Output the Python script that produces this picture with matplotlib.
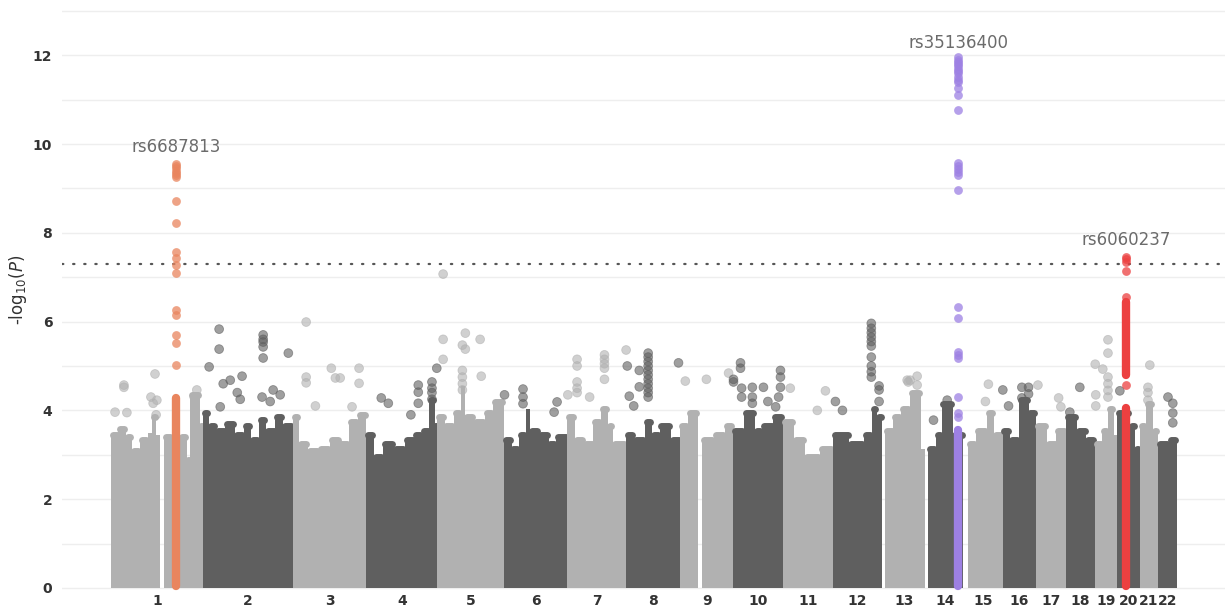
import numpy as np
import matplotlib
matplotlib.use('Agg')
import matplotlib.pyplot as plt

# chromosomes and their lengths (Mb)
chrom_names = [str(i) for i in range(1, 23)]
chrom_len = [249.3, 243.2, 198.0, 191.2, 180.9, 171.1, 159.1, 146.4, 141.2, 135.5, 135.0,
             133.9, 115.2, 107.3, 102.5, 90.4, 81.2, 78.1, 59.1, 63.0, 48.1, 51.3]

# top of the dense cloud of SNPs: (start Mb, end Mb, -log10 P) per chromosome
cloud = {
    1: [(0, 20, 3.5), (20, 40, 3.65), (40, 56, 3.45), (56, 78, 3.15), (78, 101, 3.4),
        (101, 110, 3.55), (110, 123, 3.9), (123, 132, 3.5), (132, 144, 0), (144, 164, 3.45),
        (164, 186, 3.3), (186, 205, 3.45), (205, 214, 2.95), (214, 241, 4.4), (241, 249.3, 3.7)],
    2: [(0, 15, 4.0), (15, 35, 3.7), (35, 60, 3.6), (60, 85, 3.75), (85, 110, 3.5),
        (110, 130, 3.7), (130, 150, 3.4), (150, 170, 3.85), (170, 195, 3.6), (195, 215, 3.9),
        (215, 243.2, 3.7)],
    3: [(0, 15, 3.9), (15, 40, 3.3), (40, 70, 3.15), (70, 100, 3.2), (100, 125, 3.4),
        (125, 150, 3.3), (150, 175, 3.8), (175, 198, 3.95)],
    4: [(0, 20, 3.5), (20, 45, 3.0), (45, 75, 3.3), (75, 105, 3.2), (105, 130, 3.4),
        (130, 150, 3.5), (150, 170, 3.6), (170, 185, 4.3), (185, 191.2, 3.7)],
    5: [(0, 20, 3.9), (20, 45, 3.7), (45, 65, 4.0), (65, 75, 4.6), (75, 100, 3.9),
        (100, 130, 3.8), (130, 150, 4.0), (150, 180.9, 4.25)],
    6: [(0, 20, 3.4), (20, 40, 3.2), (40, 60, 3.5), (60, 70, 4.1), (70, 95, 3.6),
        (95, 120, 3.5), (120, 140, 3.3), (140, 171.1, 3.45)],
    7: [(0, 20, 3.9), (20, 45, 3.4), (45, 70, 3.3), (70, 90, 3.8), (90, 110, 4.1),
        (110, 124, 3.7), (124, 159.1, 3.3)],
    8: [(0, 20, 3.5), (20, 50, 3.4), (50, 70, 3.8), (70, 90, 3.5), (90, 120, 3.7),
        (120, 146.4, 3.4)],
    9: [(0, 20, 3.7), (20, 46, 4.0), (46, 59, 0), (59, 90, 3.4), (90, 120, 3.5),
        (120, 141.2, 3.7)],
    10: [(0, 30, 3.6), (30, 60, 4.0), (60, 80, 3.6), (80, 110, 3.7), (110, 135.5, 3.9)],
    11: [(0, 30, 3.8), (30, 60, 3.4), (60, 100, 3.0), (100, 135.0, 3.2)],
    12: [(0, 45, 3.5), (45, 85, 3.3), (85, 105, 3.5), (105, 120, 4.1), (120, 133.9, 3.9)],
    13: [(0, 8, 0), (8, 30, 3.6), (30, 50, 3.9), (50, 75, 4.1), (75, 105, 4.45),
         (105, 115.2, 3.2)],
    14: [(0, 8, 0), (8, 30, 3.2), (30, 45, 3.5), (45, 75, 4.2), (75, 104, 3.5),
         (104, 107.3, 0)],
    15: [(0, 8, 0), (8, 30, 3.3), (30, 60, 3.6), (60, 80, 4.0), (80, 102.5, 3.5)],
    16: [(0, 20, 3.6), (20, 45, 3.4), (45, 70, 4.3), (70, 90.4, 4.0)],
    17: [(0, 30, 3.7), (30, 55, 3.3), (55, 81.2, 3.6)],
    18: [(0, 30, 3.9), (30, 55, 3.6), (55, 78.1, 3.4)],
    19: [(0, 20, 3.3), (20, 35, 3.6), (35, 50, 4.1), (50, 59.1, 3.5)],
    20: [(0, 35, 4.0), (35, 50, 3.7), (50, 63.0, 3.2)],
    21: [(0, 15, 3.7), (15, 35, 4.2), (35, 48.1, 3.6)],
    22: [(0, 30, 3.3), (30, 51.3, 3.4)],
}

# single SNPs standing out above the cloud
out_chr = [1, 1, 1, 1, 1, 1, 1, 1, 1, 1, 1,
           2, 2, 2, 2, 2, 2, 2, 2, 2, 2, 2, 2, 2, 2, 2, 2, 2, 2, 2,
           3, 3, 3, 3, 3, 3, 3, 3, 3, 3,
           4, 4, 4, 4, 4, 4, 4, 4, 4, 4, 4,
           5, 5, 5, 5, 5, 5, 5, 5, 5, 5, 5, 5,
           6, 6, 6, 6, 6, 6,
           7, 7, 7, 7, 7, 7, 7, 7, 7, 7, 7, 7, 7,
           8, 8, 8, 8, 8, 8, 8, 8, 8, 8, 8, 8, 8, 8, 8, 8, 8,
           9, 9, 9,
           10, 10, 10, 10, 10, 10, 10, 10, 10, 10, 10, 10, 10, 10, 10, 10,
           11, 11, 11,
           12, 12, 12, 12, 12, 12, 12, 12, 12, 12, 12, 12, 12, 12, 12,
           13, 13, 13, 13, 13,
           14, 14,
           15, 15,
           16, 16, 16, 16, 16, 16,
           17, 17, 17,
           18, 18,
           19, 19, 19, 19, 19, 19, 19, 19, 19, 19,
           20,
           21, 21, 21, 21,
           22, 22, 22, 22]
out_pos = [11, 35, 35, 43, 108, 114, 119, 122, 124, 232, 225,
           16, 43, 43, 54, 46, 73, 92, 105, 162, 162, 162, 162, 162, 189, 208, 230, 159, 181, 100,
           35, 35, 35, 103, 114, 127, 178, 178, 159, 60,
           40, 59, 140, 140, 140, 177, 177, 177, 177, 190, 120,
           16, 16, 16, 76, 68, 76, 68, 68, 68, 68, 116, 119,
           1, 51, 51, 51, 135, 143,
           1, 26, 26, 26, 26, 26, 100, 100, 100, 100, 100, 158.5, 60,
           2.5, 8, 35, 35, 59, 59, 59, 59, 59, 59, 59, 59, 59, 59, 59, 141, 20,
           13, 70, 130,
           2, 2, 21, 21, 24, 24, 53, 53, 53, 83, 129, 129, 129, 124, 116, 95,
           20, 93, 115,
           7, 26, 104, 104, 104, 104, 104, 104, 104, 104, 104, 104, 125, 125, 125,
           67, 75, 94, 94, 70,
           60, 23,
           64, 56,
           0.5, 16, 52, 70, 52, 70,
           5, 61, 67,
           10, 37,
           0.5, 2, 2, 21, 35, 35, 35, 35, 35, 35,
           8,
           26, 21, 21, 21,
           27, 40, 40, 40]
out_val = [3.96, 4.57, 4.52, 3.95, 4.3, 4.16, 4.82, 3.9, 4.23, 4.46, 4.3,
           4.98, 5.83, 5.38, 4.6, 4.08, 4.68, 4.4, 4.77, 5.7, 5.6, 5.54, 5.43, 5.18, 4.46, 4.35, 5.29, 4.3, 4.2, 4.25,
           5.99, 4.75, 4.62, 4.95, 4.73, 4.73, 4.95, 4.61, 4.08, 4.1,
           4.28, 4.16, 4.57, 4.41, 4.16, 4.64, 4.5, 4.4, 4.25, 4.95, 3.9,
           7.07, 5.6, 5.15, 5.74, 5.47, 5.38, 4.9, 4.75, 4.6, 4.46, 5.6, 4.77,
           4.35, 4.48, 4.3, 4.15, 3.96, 4.19,
           4.35, 5.15, 5.0, 4.64, 4.5, 4.4, 5.25, 5.15, 5.05, 4.95, 4.7, 5.36, 4.3,
           5.0, 4.32, 4.9, 4.53, 5.29, 5.2, 5.1, 5.0, 4.9, 4.8, 4.7, 4.6, 4.5, 4.4, 4.3, 5.07, 4.1,
           4.66, 4.7, 4.84,
           4.7, 4.64, 5.07, 4.95, 4.5, 4.3, 4.52, 4.3, 4.16, 4.52, 4.9, 4.75, 4.52, 4.3, 4.08, 4.2,
           4.5, 4.0, 4.44,
           4.2, 4.0, 5.96, 5.85, 5.75, 5.65, 5.55, 5.45, 5.2, 5.0, 4.87, 4.75, 4.55, 4.46, 4.2,
           4.68, 4.68, 4.77, 4.57, 4.64,
           4.23, 3.78,
           4.59, 4.2,
           4.46, 4.1, 4.52, 4.52, 4.28, 4.37,
           4.57, 4.28, 4.08,
           3.96, 4.52,
           5.04, 4.35, 4.1, 4.93, 5.59, 5.29, 4.75, 4.6, 4.45, 4.3,
           4.44,
           5.02, 4.52, 4.4, 4.23,
           4.3, 4.16, 3.94, 3.72]

# highlighted loci
hit_chr = [1, 14, 20]
hit_pos = [175.7, 90.3, 24.6]
hit_name = ['rs6687813', 'rs35136400', 'rs6060237']
hit_color = ['#e9855e', '#9d80e3', '#ec4040']
hit_dense = [[(0, 4.28)], [(0, 3.56)], [(0, 4.05), (4.8, 6.45)]]
hit_vals = [[9.55, 9.5, 9.45, 9.4, 9.35, 9.3, 9.25, 8.72, 8.22, 7.57, 7.43, 7.27, 7.09,
             6.26, 6.15, 5.7, 5.52, 5.02],
            [11.96, 11.9, 11.85, 11.8, 11.75, 11.7, 11.65, 11.6, 11.5, 11.45, 11.4, 11.26,
             11.1, 10.77, 9.57, 9.5, 9.43, 9.36, 9.3, 8.96, 6.33, 6.08, 5.32, 5.25, 5.18,
             4.3, 3.94, 3.85],
            [7.46, 7.4, 7.34, 7.14, 6.56, 4.57]]
hit_label_y = [9.93, 12.27, 7.84]

threshold = -np.log10(5e-8)

light = '#b1b1b1'
dark = '#5f5f5f'

offsets = np.concatenate([[0], np.cumsum(chrom_len)[:-1]])
centers = offsets + np.array(chrom_len) / 2

fig = plt.figure(figsize=(12.25, 6.08), dpi=100)
ax = fig.add_axes([0.0506, 0.02566, 0.9494, 0.9748])

# grid
ax.set_yticks(np.arange(0, 13, 2))
ax.set_yticks(np.arange(1, 14, 2), minor=True)
ax.grid(axis='y', which='both', color='#eeeeee', linewidth=1.0, zorder=0)
ax.set_axisbelow(True)

# dense clouds, tops softened with round caps
for i in range(22):
    col = light if i % 2 == 0 else dark
    for s, e, top in cloud[i + 1]:
        if top > 0:
            ax.bar(offsets[i] + s, top - 0.06, width=e - s, align='edge', color=col,
                   linewidth=0, zorder=2)
            ax.plot([offsets[i] + s + 5, offsets[i] + e - 5], [top - 0.06, top - 0.06],
                    color=col, linewidth=5, solid_capstyle='round', zorder=2)

# outliers
ox = [offsets[c - 1] + p for c, p in zip(out_chr, out_pos)]
ocol = [light if c % 2 == 1 else dark for c in out_chr]
ax.scatter(ox, out_val, s=40, c=ocol, alpha=0.6, linewidths=0.6, edgecolors=ocol, zorder=3)

# highlighted loci
for c, p, name, col, dense, vals, ly in zip(hit_chr, hit_pos, hit_name, hit_color,
                                            hit_dense, hit_vals, hit_label_y):
    x = offsets[c - 1] + p
    for y0, y1 in dense:
        ax.plot([x, x], [max(y0, 0.05), y1], color=col, linewidth=6,
                solid_capstyle='round', zorder=4)
    ax.scatter([x] * len(vals), vals, s=40, color=col, alpha=0.75, linewidths=0, zorder=4)
    ax.text(x, ly, name, ha='center', va='center', fontsize=12, color='#6b6b6b', zorder=5)

# genome-wide significance line
ax.axhline(threshold, color='#555555', linewidth=1.6, linestyle=(0, (0.6, 4.4)),
           dash_capstyle='round', zorder=3)

ax.set_xlim(-132.4, 3010.8)
ax.set_ylim(-0.1, 13.25)
ax.set_xticks(centers)
ax.set_xticklabels(chrom_names)
for sp in ax.spines.values():
    sp.set_visible(False)
ax.tick_params(axis='both', which='both', length=0)
ax.tick_params(axis='x', pad=1, labelsize=10, labelcolor='#333333')
ax.tick_params(axis='y', pad=7, labelsize=10, labelcolor='#333333')
for lab in ax.get_xticklabels() + ax.get_yticklabels():
    lab.set_fontweight('bold')

fig.text(18 / 1225, 1 - 290 / 608, r'-log$_{10}$($P$)', rotation=90, ha='center',
         va='center', fontsize=12, color='#333333')

fig.savefig('out.png', dpi=100)
